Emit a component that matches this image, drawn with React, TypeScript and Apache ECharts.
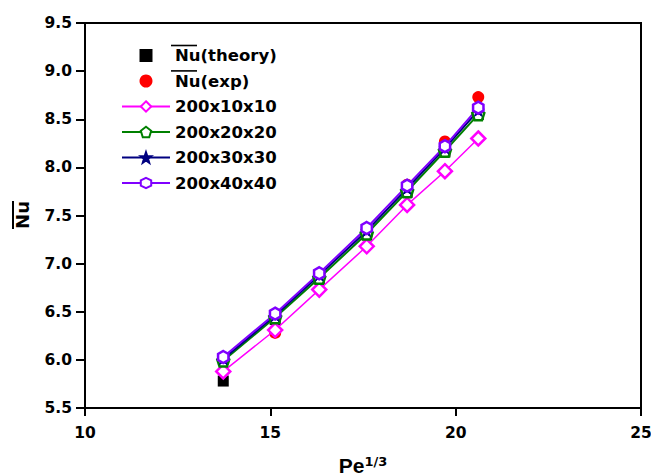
import React, { useEffect, useRef } from 'react';
import * as echarts from 'echarts';

// Pe^(1/3) at each simulated / measured case
const peCubeRoot = [13.73, 15.13, 16.32, 17.6, 18.69, 19.71, 20.61];

// Mean Nusselt number
const nuTheory = [5.78, 6.42, 6.84, 7.3, 7.74, 8.16, 8.55];
const nuExp = [6.0, 6.28, 6.88, 7.3, 7.82, 8.27, 8.73];
const mesh10 = [5.88, 6.31, 6.73, 7.18, 7.61, 7.96, 8.3];
const mesh20 = [5.99, 6.44, 6.85, 7.31, 7.75, 8.17, 8.55];
const mesh30 = [6.01, 6.46, 6.88, 7.34, 7.78, 8.2, 8.59];
const mesh40 = [6.03, 6.48, 6.9, 7.37, 7.81, 8.22, 8.62];

const seriesNames = ['Nu(theory)', 'Nu(exp)', '200x10x10', '200x20x20', '200x30x30', '200x40x40'];
const xTicks = { min: 10, max: 25, interval: 5 };
const yTicks = { min: 5.5, max: 9.5, interval: 0.5 };

const HEX = 'path://M0,-10L8.66,-5L8.66,5L0,10L-8.66,5L-8.66,-5Z';
const PENT = 'path://M0,-10L9.51,-3.09L5.88,8.09L-5.88,8.09L-9.51,-3.09Z';
const STAR =
  'path://M0,-10L2.35,-3.24L9.51,-3.09L3.8,1.24L5.88,8.09L0,4L-5.88,8.09L-3.8,1.24L-9.51,-3.09L-2.35,-3.24Z';
const SQUARE = 'path://M0,0L10,0L10,10L0,10Z';

const pairs = (ys: number[]) => peCubeRoot.map((x, i) => [x, ys[i]]);

const WIDE_FONT = 'DejaVu Sans, sans-serif';
const ARIAL = 'Liberation Sans, Arial, sans-serif';

function meshSeries(name: string, ys: number[], color: string, symbol: string, size: number, hollow: boolean, width: number) {
  return {
    name,
    type: 'line',
    data: pairs(ys),
    symbol,
    symbolSize: size,
    symbolKeepAspect: true,
    showAllSymbol: true,
    lineStyle: { color, width },
    itemStyle: hollow
      ? { color: '#fff', borderColor: color, borderWidth: 2.5 }
      : { color, borderColor: color, borderWidth: 1 },
  };
}

export default function App() {
  const ref = useRef<HTMLDivElement>(null);

  useEffect(() => {
    if (!ref.current) return;
    const chart = echarts.init(ref.current, undefined, { renderer: 'svg' });

    // overbars above "Nu" in the first two legend rows
    const firstRow = 55;
    const rowStep = 25.4;
    const overline = (row: number) => ({
      id: 'overline' + row,
      type: 'line',
      shape: { x1: 171, y1: firstRow + row * rowStep - 9.5, x2: 197, y2: firstRow + row * rowStep - 9.5 },
      style: { stroke: '#000', lineWidth: 1.6 },
      z: 100,
    });

    chart.setOption({
      animation: false,
      backgroundColor: '#fff',
      grid: {
        left: 85,
        right: 10,
        top: 23,
        bottom: 68,
        show: true,
        borderColor: '#000',
        borderWidth: 2,
        containLabel: false,
        outerBoundsMode: 'none',
      },
      xAxis: {
        type: 'value',
        min: xTicks.min,
        max: xTicks.max,
        interval: xTicks.interval,
        splitLine: { show: false },
        axisLine: { show: true, onZero: false, lineStyle: { color: '#000', width: 2 } },
        axisTick: { show: true, inside: false, length: 8, lineStyle: { color: '#000', width: 2 } },
        axisLabel: { color: '#000', fontFamily: WIDE_FONT, fontWeight: 'bold', fontSize: 15.5, margin: 17 },
        name: '{a|Pe}{b|1/3}',
        nameLocation: 'middle',
        nameGap: 47,
        nameTextStyle: {
          rich: {
            a: { fontFamily: ARIAL, fontWeight: 'bold', fontSize: 21, color: '#000', verticalAlign: 'bottom' },
            b: { fontFamily: WIDE_FONT, fontWeight: 'bold', fontSize: 13, color: '#000', verticalAlign: 'top' },
          },
        },
      },
      yAxis: {
        type: 'value',
        min: yTicks.min,
        max: yTicks.max,
        interval: yTicks.interval,
        splitLine: { show: false },
        axisLine: { show: true, onZero: false, lineStyle: { color: '#000', width: 2 } },
        axisTick: { show: true, inside: false, length: 9, lineStyle: { color: '#000', width: 2 } },
        axisLabel: {
          color: '#000',
          fontFamily: WIDE_FONT,
          fontWeight: 'bold',
          fontSize: 15.5,
          margin: 13,
          formatter: (v: number) => v.toFixed(1),
        },
      },
      legend: {
        orient: 'vertical',
        left: 116,
        top: 42,
        itemWidth: 48,
        itemHeight: 13,
        itemGap: 8.5,
        data: [
          { name: seriesNames[0], icon: SQUARE, itemStyle: { color: '#000', opacity: 1 } },
          { name: seriesNames[1], icon: 'circle', itemStyle: { color: '#ff0000', opacity: 1 } },
          ...seriesNames.slice(2),
        ],
        textStyle: { fontFamily: WIDE_FONT, fontWeight: 'bold', fontSize: 16.5, color: '#000' },
        selectedMode: false,
      },
      graphic: [
        overline(0),
        overline(1),
        {
          id: 'yTitle',
          type: 'group',
          x: 22,
          y: 215,
          rotation: Math.PI / 2,
          children: [
            {
              type: 'text',
              x: 0,
              y: 0,
              style: {
                text: 'Nu',
                fontFamily: WIDE_FONT,
                fontWeight: 'bold',
                fontSize: 18,
                fill: '#000',
                align: 'center',
                verticalAlign: 'middle',
              },
            },
            {
              type: 'line',
              shape: { x1: -14, y1: -9, x2: 14, y2: -9 },
              style: { stroke: '#000', lineWidth: 2 },
            },
          ],
        },
      ],
      series: [
        {
          name: seriesNames[0],
          type: 'scatter',
          data: pairs(nuTheory),
          symbol: 'rect',
          symbolSize: 11,
          itemStyle: { color: '#000', opacity: 1 },
        },
        {
          name: seriesNames[1],
          type: 'scatter',
          data: pairs(nuExp),
          symbol: 'circle',
          symbolSize: 12,
          itemStyle: { color: '#ff0000', opacity: 1 },
        },
        meshSeries(seriesNames[2], mesh10, '#ff00ff', 'diamond', 14, true, 1.5),
        meshSeries(seriesNames[3], mesh20, '#008000', PENT, 12, true, 2),
        meshSeries(seriesNames[4], mesh30, '#000080', STAR, 12, false, 2),
        meshSeries(seriesNames[5], mesh40, '#8000ff', HEX, 12, true, 2),
      ],
    });

    return () => chart.dispose();
  }, []);

  return <div ref={ref} style={{ position: 'fixed', left: 0, top: 0, width: 651, height: 476 }} />;
}
